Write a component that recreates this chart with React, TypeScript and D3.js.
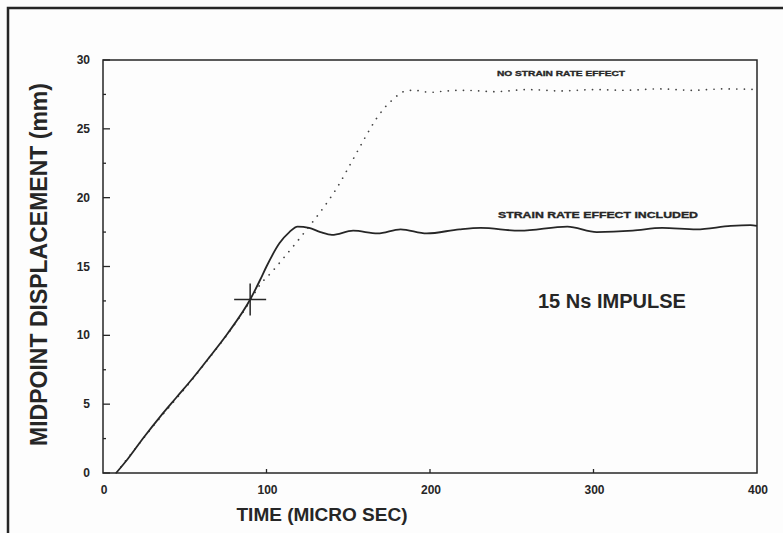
import React, { useEffect, useRef } from 'react';
import * as d3 from 'd3';

// strain rate effect included (solid)
const timeRate = [8, 15, 25, 35, 45, 55, 65, 76, 90, 96, 100, 108, 114, 119, 126, 133, 140, 153, 168, 182, 198, 218, 231, 255, 284, 302, 324, 342, 363, 384, 396, 400];
const dispRate = [0, 1.0, 2.6, 4.1, 5.5, 6.9, 8.4, 10.1, 12.6, 14.0, 15.0, 16.7, 17.5, 17.9, 17.8, 17.5, 17.3, 17.6, 17.4, 17.7, 17.4, 17.7, 17.8, 17.6, 17.9, 17.5, 17.6, 17.8, 17.7, 17.95, 18.0, 17.95];

// no strain rate effect (dotted)
const timeNoRate = [8, 30, 60, 90, 95, 104, 111, 120, 128, 135, 143, 153, 160, 167, 172, 177, 181, 185, 190, 200, 210, 220, 240, 260, 280, 300, 320, 340, 360, 380, 400];
const dispNoRate = [0, 3.3, 7.6, 12.5, 13.5, 14.7, 15.7, 17.0, 18.2, 19.3, 20.7, 22.8, 24.3, 25.7, 26.5, 27.1, 27.5, 27.75, 27.8, 27.65, 27.75, 27.8, 27.7, 27.85, 27.75, 27.85, 27.8, 27.9, 27.8, 27.9, 27.85];

const xTicks = [0, 100, 200, 300, 400];
const yTicks = [0, 5, 10, 15, 20, 25, 30];
const marker = { t: 90, d: 12.6 };

const ink = '#262626';
const font = '"Liberation Sans", Arial, sans-serif';

const App = () => {
  const svgRef = useRef(null);

  useEffect(() => {
    const width = 783;
    const height = 533;
    const svg = d3.select(svgRef.current);
    svg.selectAll('*').remove();
    svg.attr('width', width).attr('height', height);

    const x = d3.scaleLinear().domain([0, 400]).range([103, 757]);
    const y = d3.scaleLinear().domain([0, 30]).range([473, 60]);

    svg.append('rect').attr('width', width).attr('height', height).attr('fill', '#fdfdfd');

    // outer page frame
    svg.append('path')
      .attr('d', `M8,${height} V8 H${width}`)
      .attr('fill', 'none').attr('stroke', ink).attr('stroke-width', 2.5);

    // plot frame
    svg.append('rect')
      .attr('x', x(0)).attr('y', y(30))
      .attr('width', x(400) - x(0)).attr('height', y(0) - y(30))
      .attr('fill', 'none').attr('stroke', ink).attr('stroke-width', 1.5);

    // y ticks (inside)
    const yMinor = d3.range(0, 30.01, 2.5);
    svg.selectAll('.ytick')
      .data(yMinor)
      .enter()
      .append('line')
      .attr('x1', x(0))
      .attr('x2', d => x(0) + (d % 5 === 0 ? 7 : 3))
      .attr('y1', d => y(d)).attr('y2', d => y(d))
      .attr('stroke', ink).attr('stroke-width', 1.3);

    svg.selectAll('.xtick')
      .data(xTicks.slice(1, -1))
      .enter()
      .append('line')
      .attr('x1', d => x(d)).attr('x2', d => x(d))
      .attr('y1', y(0)).attr('y2', y(0) - 4)
      .attr('stroke', ink).attr('stroke-width', 1.3);

    svg.selectAll('.ylab')
      .data(yTicks)
      .enter()
      .append('text')
      .attr('x', 90)
      .attr('y', d => y(d) + 4)
      .attr('text-anchor', 'end')
      .style('font', `bold 12px ${font}`)
      .attr('fill', ink)
      .text(d => d);

    svg.selectAll('.xlab')
      .data(xTicks)
      .enter()
      .append('text')
      .attr('x', d => x(d) + 1)
      .attr('y', 494)
      .attr('text-anchor', 'middle')
      .style('font', `bold 12px ${font}`)
      .attr('fill', ink)
      .text(d => d);

    // axis titles
    svg.append('text')
      .attr('transform', `translate(47,${(y(0) + y(30)) / 2 - 2}) rotate(-90)`)
      .attr('text-anchor', 'middle')
      .style('font', `bold 23px ${font}`)
      .attr('fill', ink)
      .text('MIDPOINT DISPLACEMENT (mm)');

    svg.append('text')
      .attr('x', 322).attr('y', 521)
      .attr('text-anchor', 'middle')
      .style('font', `bold 19px ${font}`)
      .attr('fill', ink)
      .text('TIME (MICRO SEC)');

    const line = d3.line()
      .x(d => x(d[0]))
      .y(d => y(d[1]))
      .curve(d3.curveMonotoneX);

    svg.append('path')
      .datum(timeNoRate.map((t, i) => [t, dispNoRate[i]]))
      .attr('d', line)
      .attr('fill', 'none')
      .attr('stroke', '#444')
      .attr('stroke-width', 1.7)
      .attr('stroke-linecap', 'round')
      .attr('stroke-dasharray', '0.1 7.5');

    svg.append('path')
      .datum(timeRate.map((t, i) => [t, dispRate[i]]))
      .attr('d', line)
      .attr('fill', 'none')
      .attr('stroke', ink)
      .attr('stroke-width', 1.8);

    // cross marker
    const mx = x(marker.t);
    const my = y(marker.d);
    svg.append('path')
      .attr('d', `M${mx - 16},${my} H${mx + 16} M${mx},${my - 16} V${my + 16}`)
      .attr('stroke', ink).attr('stroke-width', 1.5);

    // curve labels
    svg.append('text')
      .attr('x', 497).attr('y', 76)
      .attr('textLength', 128).attr('lengthAdjust', 'spacingAndGlyphs')
      .style('font', `bold 8px ${font}`)
      .attr('fill', ink).attr('stroke', ink).attr('stroke-width', 0.35)
      .text('NO STRAIN RATE EFFECT');

    svg.append('text')
      .attr('x', 498).attr('y', 218)
      .attr('textLength', 200).attr('lengthAdjust', 'spacingAndGlyphs')
      .style('font', `bold 9px ${font}`)
      .attr('fill', ink).attr('stroke', ink).attr('stroke-width', 0.35)
      .text('STRAIN RATE EFFECT INCLUDED');

    svg.append('text')
      .attr('x', 538).attr('y', 308)
      .style('font', `bold 20px ${font}`)
      .attr('fill', ink)
      .text('15 Ns IMPULSE');
  }, []);

  return (
    <svg ref={svgRef} style={{ position: 'absolute', left: 0, top: 0, display: 'block' }}></svg>
  );
};

export default App;
